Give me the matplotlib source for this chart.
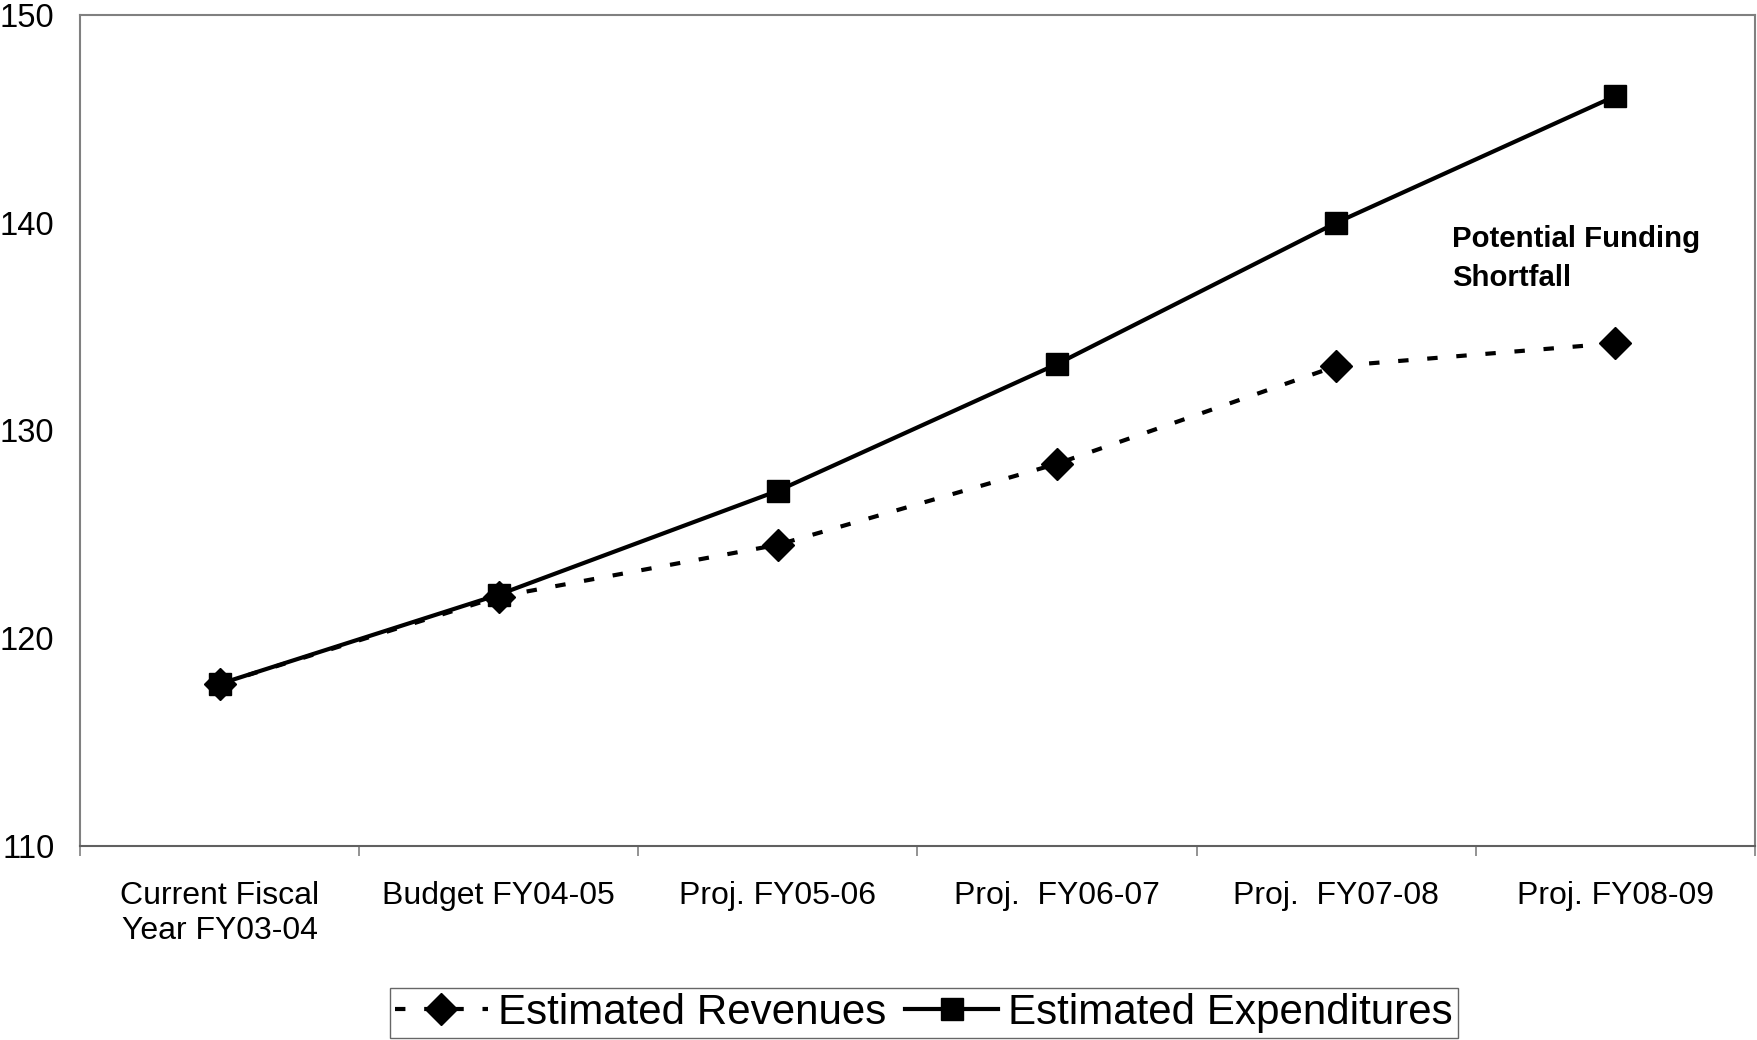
"""
Revenue vs expenditure projection (fiscal years 03-04 to 08-09).
"""

import matplotlib
matplotlib.use("Agg")
import matplotlib.pyplot as plt

plt.rcParams["font.family"] = ["Liberation Sans", "DejaVu Sans"]
plt.rcParams["lines.scale_dashes"] = False

# ── Data ──────────────────────────────────────────────────────────
categories = [
    "Current Fiscal\nYear FY03-04",
    "Budget FY04-05",
    "Proj. FY05-06",
    "Proj.  FY06-07",
    "Proj.  FY07-08",
    "Proj. FY08-09",
]
revenues = [117.8, 122.0, 124.5, 128.4, 133.1, 134.2]
expenditures = [117.8, 122.1, 127.1, 133.2, 140.0, 146.1]
y_ticks = [110, 120, 130, 140, 150]
note = "Potential Funding\nShortfall"

GRAY = "#808080"

# ── Figure ───────────────────────────────────────────────────────
W, H = 1757, 1040
fig = plt.figure(figsize=(W / 100, H / 100), dpi=100)
ax = fig.add_axes([80 / W, 1 - 846 / H, (1755 - 80) / W, (846 - 15) / H])

x = [i + 0.5 for i in range(len(categories))]
ax.plot(x, expenditures, color="black", lw=3, marker="s", ms=16,
        label="Estimated Expenditures", zorder=3)
ax.plot(x, revenues, color="black", lw=3, ls=(0, (7.5, 13.5)),
        dash_capstyle="butt", marker="D", ms=16,
        label="Estimated Revenues", zorder=4)

ax.set_xlim(0, len(categories))
ax.set_ylim(y_ticks[0], y_ticks[-1])

# category boundaries as major ticks, labels centred on minor ticks
ax.set_xticks(range(len(categories) + 1))
ax.set_xticklabels([])
ax.set_xticks(x, minor=True)
ax.set_xticklabels(categories, minor=True, fontsize=23, linespacing=1.25)
ax.tick_params(axis="x", which="major", length=7.5, width=1.2, color=GRAY)
ax.tick_params(axis="x", which="minor", length=0, pad=25)

ax.set_yticks(y_ticks)
ax.set_yticklabels([str(v) for v in y_ticks], fontsize=23.5)
ax.tick_params(axis="y", length=0, pad=18.5)

for side in ["top", "right", "left"]:
    ax.spines[side].set_color(GRAY)
    ax.spines[side].set_linewidth(1.5)
ax.spines["bottom"].set_color("#606060")
ax.spines["bottom"].set_linewidth(1.5)

ax.text(4.914, 139.88, note, fontsize=21.2, fontweight="bold",
        va="top", ha="left", linespacing=1.5)

handles, labels = ax.get_legend_handles_labels()
leg = fig.legend(handles[::-1], labels[::-1], ncol=2,
                 loc="lower center", bbox_to_anchor=(924 / W, 2 / H),
                 prop={"size": 30.3},
                 frameon=True, fancybox=False, edgecolor="#404040",
                 handlelength=2.2, handletextpad=0.25, columnspacing=0.45,
                 borderpad=0.12, borderaxespad=0)
leg.get_frame().set_linewidth(1.0)

fig.savefig("out.png", dpi=100)
